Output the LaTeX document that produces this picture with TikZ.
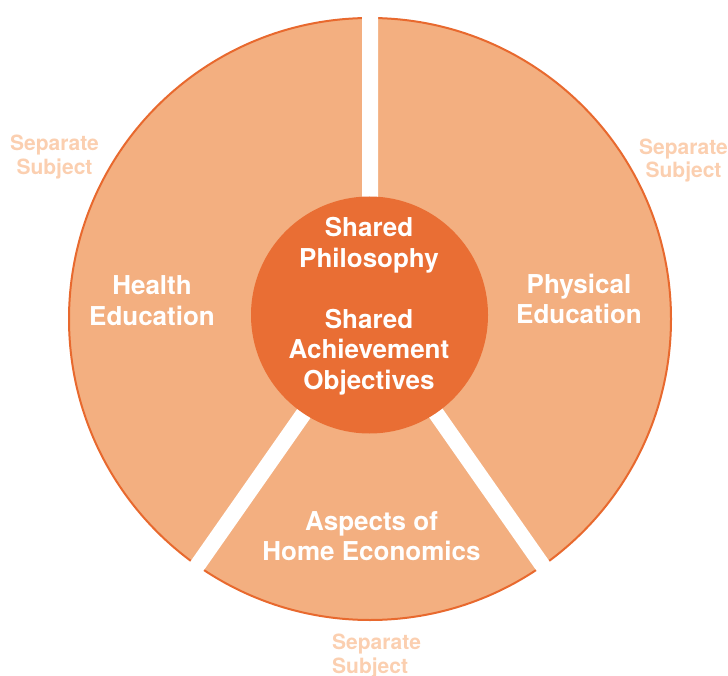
\documentclass[tikz,border=0pt]{standalone}
\usepackage{fontspec}
\setmainfont{TeX Gyre Heros}
\definecolor{rim}{HTML}{E8692E}
\definecolor{wedge}{HTML}{F3AF80}
\definecolor{core}{HTML}{E96E34}
\definecolor{faint}{HTML}{FBCFB0}
\begin{document}
\begin{tikzpicture}[x=1pt,y=-1pt,
  subj/.style={white,font=\bfseries\fontsize{26}{30.5}\selectfont,align=center,inner sep=0pt},
  sepsubj/.style={faint,font=\bfseries\fontsize{21}{23.5}\selectfont,align=center,inner sep=0pt},
  gap/.style={white,line width=16pt}]
\useasboundingbox (0,0) rectangle (728,676);
\coordinate (O) at (370,319);
\coordinate (C) at (369.5,315);
\filldraw[fill=wedge,draw=rim,line width=2pt] (O) circle (301);
\draw[gap] (O) -- ++(270:330) (O) -- ++(125:330) (O) -- ++(55:330);
\fill[core] (C) circle (118.5);
\node[subj] (shared) at (369,306.4) {Shared\\Philosophy\\[30.5pt]Shared\\Achievement\\Objectives};
\node[subj] (health) at (152,300.7) {Health\\Education};
\node[subj] (physical) at (579,298.8) {Physical\\Education};
\node[subj] (home) at (371.5,535.9) {Aspects of\\Home Economics};
\node[sepsubj] (sepleft) at (54.5,157) {Separate\\Subject};
\node[sepsubj] (sepright) at (683.5,160.3) {Separate\\Subject};
\node[sepsubj,align=left,anchor=west] (sepbottom) at (332,655.8) {Separate\\Subject};
\end{tikzpicture}
\end{document}
